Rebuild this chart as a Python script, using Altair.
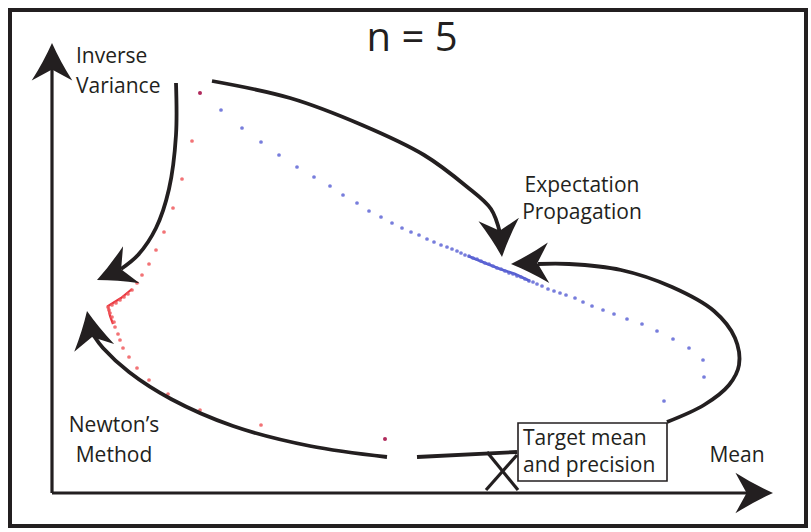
import altair as alt
import pandas as pd

# Iterates of Expectation Propagation (blue) in (mean, inverse variance) space
ep_x = [221, 242, 261, 279, 297, 314, 330, 343, 357, 369, 381, 392, 402, 411, 419,
        427, 434, 441, 447, 452, 457, 461, 465, 469, 473, 477, 481, 485, 489, 493,
        497, 501, 505, 509, 513, 517, 521, 525, 529, 533, 537, 542, 548, 554, 560,
        566, 575, 583, 592, 603, 614, 627, 642, 657, 673, 689, 703, 704, 664]
ep_y = [110, 128, 142, 155, 167, 177, 186, 195, 203, 211, 217, 223, 228, 232, 235,
        239, 242, 245, 247, 249, 251, 253, 255, 256, 258, 259, 261, 263, 264, 266,
        268, 269, 271, 273, 274, 276, 277, 279, 281, 282, 284, 286, 289, 291, 293,
        295, 298, 302, 306, 310, 314, 319, 324, 331, 339, 348, 360, 377, 401]
# Dense convergence streak of the EP iterates
ep_streak_x = [468, 485, 500, 515, 530]
ep_streak_y = [256, 263, 269, 274, 281]

# Iterates of Newton's method (red)
nm_x = [192, 182, 173, 164, 156, 149, 142, 137, 132, 128, 124, 120, 116, 112, 108,
        109, 110, 112, 114, 115, 118, 120, 123, 129, 137, 149, 168, 200, 261]
nm_y = [141, 179, 208, 232, 250, 264, 275, 283, 290, 294, 297, 300, 303, 305, 307,
        310, 313, 317, 322, 327, 334, 340, 348, 357, 368, 380, 394, 410, 425]
nm_streak_x = [132, 121, 108, 110, 113]
nm_streak_y = [289, 298, 306, 316, 324]

# Shared start and end points
shared_x = [200, 385]
shared_y = [93, 439]

# Annotation curves (control points, drawn with a smooth spline)
curves = {
    "ep_arrow": ([212, 290, 362, 424, 466, 491, 500], [81, 98, 125, 155, 186, 209, 233]),
    "nm_arrow_top": ([176, 176, 169, 156, 138, 121], [83, 135, 189, 228, 255, 269]),
    "nm_arrow_bottom": ([387, 310, 233, 171, 129, 103, 94], [457, 446, 426, 399, 372, 348, 336]),
    "target_link": ([417, 517], [457, 452]),
    "ep_loop": ([667, 704, 729, 739, 735, 714, 672, 621, 569, 538], [422, 405, 385, 365, 338, 311, 287, 270, 264, 264]),
}
axis_lines = {
    "mean_axis": ([52, 752], [493, 493]),
    "precision_axis": ([52, 52], [493, 62]),
    "cross_a": ([487, 518], [452, 490]),
    "cross_b": ([517, 486], [455, 490]),
}

# Arrowheads: tip position and heading (degrees clockwise from up)
head_x = [52, 773, 502, 97, 87, 511]
head_y = [43, 493, 257, 280, 311, 264]
head_angle = [0, 90, 175, 246, 349, 268]

X = alt.Scale(domain=[0, 811], nice=False, zero=False)
Y = alt.Scale(domain=[0, 532], nice=False, zero=False, reverse=True)
INK = "#231f20"
FONT = "Open Sans"


def xy(df):
    return dict(
        x=alt.X("x:Q", scale=X, axis=None),
        y=alt.Y("y:Q", scale=Y, axis=None),
    )


def polyline_frame(d):
    rows = []
    for name, (xs, ys) in d.items():
        for i, (a, b) in enumerate(zip(xs, ys)):
            rows.append({"seg": name, "i": i, "x": a, "y": b})
    return pd.DataFrame(rows)


curve_df = polyline_frame(curves)
axis_df = polyline_frame(axis_lines)

frame = alt.Chart(pd.DataFrame({"x": [10], "x2": [806], "y": [10], "y2": [526]})).mark_rect(
    fill="white", stroke=INK, strokeWidth=4
).encode(
    x=alt.X("x:Q", scale=X, axis=None), x2="x2:Q",
    y=alt.Y("y:Q", scale=Y, axis=None), y2="y2:Q",
)

axes = alt.Chart(axis_df).mark_line(color=INK, strokeWidth=3.2).encode(
    **xy(axis_df), detail="seg:N", order="i:Q"
)

arcs = alt.Chart(curve_df).mark_line(
    color=INK, strokeWidth=3.8, interpolate="catmull-rom"
).encode(**xy(curve_df), detail="seg:N", order="i:Q")

head_df = pd.DataFrame({"x": head_x, "y": head_y, "a": head_angle})
heads = alt.Chart(head_df).mark_point(
    shape="M0,0 Q0.4,0.9 1,1.85 L0,1.3 L-1,1.85 Q-0.4,0.9 0,0 Z",
    filled=True, color=INK, opacity=1, size=1650, strokeWidth=0,
).encode(**xy(head_df), angle=alt.Angle("a:Q", scale=None))

ep_df = pd.DataFrame({"x": ep_x, "y": ep_y})
ep_pts = alt.Chart(ep_df).mark_circle(color="#5f66d6", size=14, opacity=0.85).encode(**xy(ep_df))
eps_df = pd.DataFrame({"x": ep_streak_x, "y": ep_streak_y, "i": range(len(ep_streak_x))})
ep_line = alt.Chart(eps_df).mark_line(color="#3440c4", strokeWidth=2.6, opacity=0.85).encode(
    **xy(eps_df), order="i:Q")

nm_df = pd.DataFrame({"x": nm_x, "y": nm_y})
nm_pts = alt.Chart(nm_df).mark_circle(color="#f05a5e", size=14, opacity=0.85).encode(**xy(nm_df))
nms_df = pd.DataFrame({"x": nm_streak_x, "y": nm_streak_y, "i": range(len(nm_streak_x))})
nm_line = alt.Chart(nms_df).mark_line(color="#e8202a", strokeWidth=2.2, opacity=0.9).encode(
    **xy(nms_df), order="i:Q")

sh_df = pd.DataFrame({"x": shared_x, "y": shared_y})
sh_pts = alt.Chart(sh_df).mark_circle(color="#b02a5c", size=16, opacity=1).encode(**xy(sh_df))

box = alt.Chart(pd.DataFrame({"x": [518], "x2": [667], "y": [423], "y2": [481]})).mark_rect(
    fill="white", stroke=INK, strokeWidth=1.6
).encode(
    x=alt.X("x:Q", scale=X, axis=None), x2="x2:Q",
    y=alt.Y("y:Q", scale=Y, axis=None), y2="y2:Q",
)

title_df = pd.DataFrame({"x": [412], "y": [51], "t": ["n = 5"]})
title = alt.Chart(title_df).mark_text(
    font=FONT, fontSize=40, color=INK, align="center", baseline="alphabetic"
).encode(**xy(title_df), text="t:N")

left_df = pd.DataFrame({
    "x": [76, 76, 523, 523],
    "y": [63, 93, 445, 472],
    "t": ["Inverse", "Variance", "Target mean", "and precision"],
})
left_text = alt.Chart(left_df).mark_text(
    font=FONT, fontSize=21, color=INK, align="left", baseline="alphabetic"
).encode(**xy(left_df), text="t:N")

center_df = pd.DataFrame({
    "x": [582, 582, 114, 114, 737],
    "y": [192, 219, 432, 462, 462],
    "t": ["Expectation", "Propagation", "Newton\u2019s", "Method", "Mean"],
})
center_text = alt.Chart(center_df).mark_text(
    font=FONT, fontSize=21, color=INK, align="center", baseline="alphabetic"
).encode(**xy(center_df), text="t:N")

chart = alt.layer(
    frame, axes, nm_line, nm_pts, ep_line, ep_pts, sh_pts, arcs, heads, box,
    title, left_text, center_text,
).properties(
    width=811, height=532, padding=0,
    autosize=alt.AutoSizeParams(type="none"),
    background="white",
).configure_view(stroke=None)

chart.save("out.html", embed_options={"renderer": "svg", "actions": False})
